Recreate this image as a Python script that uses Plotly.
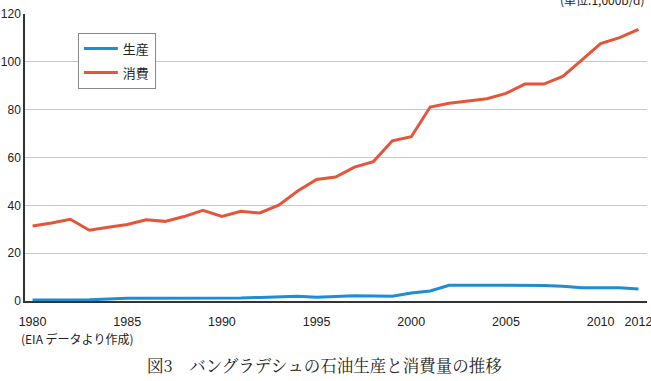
import plotly.graph_objects as go

years = list(range(1980, 2013))
production = [0.4, 0.4, 0.4, 0.5, 0.8, 1.2, 1.2, 1.2, 1.3, 1.1, 1.4, 1.3, 1.5, 1.6, 2.0, 1.6,
              1.9, 2.2, 2.1, 2.0, 3.3, 4.2, 6.6, 6.6, 6.5, 6.5, 6.5, 6.5, 6.2, 5.5, 5.5, 5.5, 5.0]
consumption = [31.4, 32.6, 34.2, 29.6, 30.8, 32.0, 34.0, 33.3, 35.3, 37.9, 35.4, 37.5, 36.8, 40.1,
               46.0, 50.8, 51.8, 56.0, 58.3, 67.0, 68.7, 81.1, 82.7, 83.7, 84.6, 86.8, 90.7, 90.7,
               93.9, 100.7, 107.6, 110.1, 113.6]
series_names = ["生産", "消費"]
xtick_vals = [1980, 1985, 1990, 1995, 2000, 2005, 2010, 2012]
xtick_text = ["1980", "1985", "1990", "1995", "2000", "2005", "2010", "2012"]
ytick_vals = [0, 20, 40, 60, 80, 100, 120]
unit_label = "(単位:1,000b/d)"
source_label = "(EIA データより作成)"
caption = "図3　バングラデシュの石油生産と消費量の推移"

font_latin = "Liberation Sans, Arial, Noto Sans CJK JP, sans-serif"
font_jp = "Noto Sans CJK JP, sans-serif"

fig = go.Figure()
fig.add_trace(go.Scatter(x=years, y=production, mode="lines", name=series_names[0],
                         legendgroup="a", line=dict(color="#1f8dd0", width=3)))
fig.add_trace(go.Scatter(x=years, y=consumption, mode="lines", name=series_names[1],
                         legendgroup="b", line=dict(color="#e4553a", width=3)))

fig.update_layout(
    width=651, height=381,
    margin=dict(l=25, r=4, t=14, b=80),
    paper_bgcolor="white", plot_bgcolor="white",
    font=dict(family=font_latin, size=12, color="#222"),
    showlegend=True,
    legend=dict(x=0.085, y=0.935, xanchor="left", yanchor="top",
                bordercolor="#888", borderwidth=1, bgcolor="white",
                font=dict(family=font_jp, size=13, color="#222"),
                traceorder="grouped", tracegroupgap=4, itemwidth=34),
    xaxis=dict(range=[1979.6, 2012.45], tickmode="array", tickvals=xtick_vals,
               ticktext=xtick_text, showgrid=False, zeroline=False, automargin=False,
               showline=True, linecolor="#333", linewidth=1.5, ticks="", ticklabelstandoff=8,
               ticklabeloverflow="allow", tickfont=dict(size=12.5)),
    yaxis=dict(range=[0, 120], tickmode="array", tickvals=ytick_vals, showgrid=True,
               gridcolor="#c8c8c8", gridwidth=1, zeroline=False, showline=True, automargin=False,
               linecolor="#333", linewidth=1.5, ticks="", ticklabelstandoff=0,
               ticklabeloverflow="allow", tickfont=dict(size=12)),
    annotations=[
        dict(text=unit_label, xref="paper", yref="paper", x=1.0, y=1.0488,
             xanchor="right", yanchor="middle", showarrow=False,
             font=dict(family=font_jp, size=12, color="#222")),
        dict(text=source_label, xref="paper", yref="paper", x=-0.009, y=-0.13,
             xanchor="left", yanchor="middle", showarrow=False,
             font=dict(family=font_jp, size=12, color="#222")),
        dict(text=caption, xref="paper", yref="paper", x=0.482, y=-0.222,
             xanchor="center", yanchor="middle", showarrow=False,
             font=dict(family="Noto Serif CJK JP, Noto Sans CJK JP, serif", size=16.5, color="#222")),
    ],
)

fig.write_html("out.html")
